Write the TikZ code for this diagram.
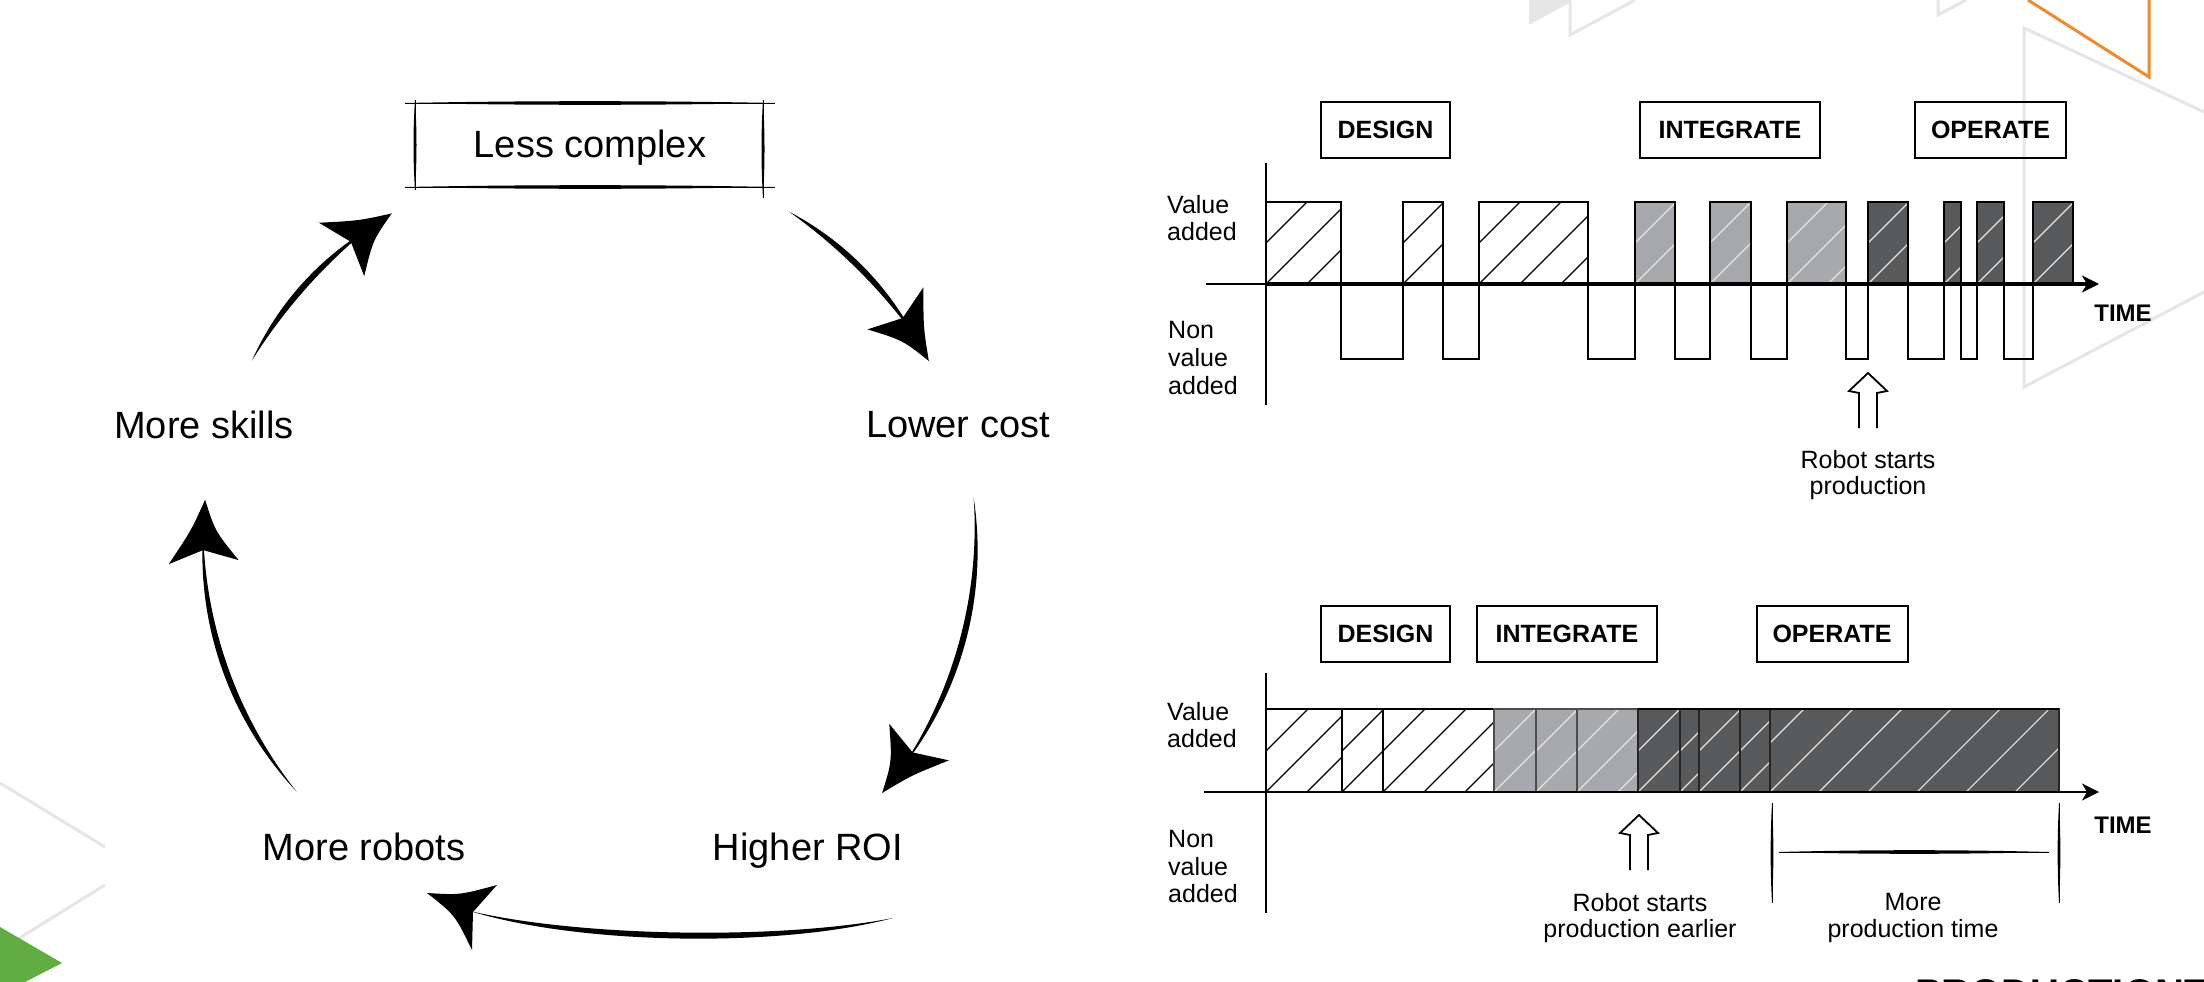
\documentclass[tikz,border=0pt]{standalone}
\usepackage{fontspec}
\setmainfont{Liberation Sans}
\usetikzlibrary{arrows.meta}
\definecolor{lgray}{HTML}{A7A9AC}
\definecolor{dgray}{HTML}{58595B}
\definecolor{bggray}{HTML}{E6E6E6}
\definecolor{orng}{HTML}{EE8B2F}
\definecolor{grn}{HTML}{62AD43}
\definecolor{hatchw}{HTML}{E4E4E4}

\newcommand{\hatchbox}[7]{%
  \fill[#5] (#1,#3) rectangle (#2,#4);
  \begin{scope}
    \clip (#1,#3) rectangle (#2,#4);
    \foreach \k in {-3,...,8}{\draw[#6,line width=1.1pt] ({#1+\k*#7},#4) -- ++(95,-95);}
  \end{scope}}

% horizontal tapered stroke: x1 x2 y half-thickness
\newcommand{\htaper}[4]{%
  \draw[line width=0.9pt] (#1,#3) -- (#2,#3);
  \fill (#1,#3) .. controls ({#1+(#2-#1)/3},{#3-#4}) and ({#2-(#2-#1)/3},{#3-#4}) .. (#2,#3)
        .. controls ({#2-(#2-#1)/3},{#3+#4}) and ({#1+(#2-#1)/3},{#3+#4}) .. (#1,#3) -- cycle;}
% vertical tapered stroke: y1 y2 x half-thickness
\newcommand{\vtaper}[4]{%
  \draw[line width=0.9pt] (#3,#1) -- (#3,#2);
  \fill (#3,#1) .. controls ({#3-#4},{#1+(#2-#1)/3}) and ({#3-#4},{#2-(#2-#1)/3}) .. (#3,#2)
        .. controls ({#3+#4},{#2-(#2-#1)/3}) and ({#3+#4},{#1+(#2-#1)/3}) .. (#3,#1) -- cycle;}

\newcommand{\upsk}[2]{%
  \draw[line width=1.8pt,line join=miter] ({#1-9},{#2+55}) -- ({#1-9},{#2+20}) -- ({#1-19},{#2+18}) -- (#1,#2) -- ({#1+19},{#2+18}) -- ({#1+9},{#2+20}) -- ({#1+9},{#2+55});}

\newcommand{\cycarrow}[3]{%
  \pgfmathsetmacro\cyE{#2+3}
  \pgfmathsetmacro\cyD{\cyE-#1}
  \pgfmathsetmacro\cyP{atan(4/3*tan(\cyD/4))}
  \pgfmathsetmacro\cyRo{(#3+4)/cos(\cyP)}
  \pgfmathsetmacro\cyRi{(#3-4)/cos(\cyP)}
  \pgfmathsetmacro\cyA{#1+\cyP}
  \pgfmathsetmacro\cyB{\cyE-\cyP}
  \pgfmathsetmacro\cyT{#2+7.5}
  \pgfmathsetmacro\cyW{#2-1.8}
  \pgfmathsetmacro\cyM{#2+2.85}
  \pgfmathsetmacro\cyRp{#3+35}
  \pgfmathsetmacro\cyRm{#3-35}
  \pgfmathsetmacro\cyCp{#3+12}
  \pgfmathsetmacro\cyCm{#3-12}
  \fill (#1:#3) .. controls (\cyA:\cyRo) and (\cyB:\cyRo) .. (\cyE:#3) .. controls (\cyB:\cyRi) and (\cyA:\cyRi) .. (#1:#3) -- cycle;
  \fill (\cyT:#3) .. controls (\cyM:\cyCp) .. (\cyW:\cyRp) -- (#2:#3) -- (\cyW:\cyRm) .. controls (\cyM:\cyCm) .. (\cyT:#3) -- cycle;}

\tikzset{
  big/.style={font=\fontsize{38}{44}\selectfont, inner sep=0pt, anchor=base},
  small/.style={font=\fontsize{25}{28}\selectfont, inner sep=0pt},
  phase/.style={font=\bfseries\fontsize{25}{28}\selectfont, draw, line width=2pt, minimum height=56pt, inner sep=0pt},
  timel/.style={font=\bfseries\fontsize{24}{28}\selectfont, inner sep=0pt},
  wave/.style={line width=2.4pt, line join=miter},
  tip/.style={-{Stealth[length=17pt,width=17pt,inset=5pt]}}
}

\begin{document}
\begin{tikzpicture}[x=1pt,y=-1pt]
\useasboundingbox (0,0) rectangle (2204,982);
\fill[white] (0,0) rectangle (2204,982);

% background decoration
\draw[bggray, line width=3pt] (2204,112) -- (2024,28) -- (2024,387) -- (2204,292);
\fill[bggray] (1529,0) -- (1529,25) -- (1569,3) -- (1569,0) -- cycle;
\draw[bggray, line width=3pt] (1570,0) -- (1570,35) -- (1635,0);
\draw[bggray, line width=3pt] (1938,0) -- (1938,15) -- (1966,0);
\draw[orng, line width=3pt] (2028,0) -- (2149,77) -- (2149,0);
\draw[bggray, line width=3pt] (0,783) -- (105,847);
\draw[bggray, line width=3pt] (105,885) -- (0,950);
\fill[grn] (0,927) -- (62,963) -- (25,982) -- (0,982) -- cycle;
\node[font=\bfseries\fontsize{40}{40}\selectfont, inner sep=0pt, anchor=base west] (prodtxt) at (1915,1007) {PRODUCTIONT};

% ===== cycle =====
\node[big] (lesscomplex) at (590,157) {Less complex};
\node[big] (lowercost) at (958,437) {Lower cost};
\node[big] (moreskills) at (204,438) {More skills};
\node[big] (higherroi) at (808,860) {Higher ROI};
\node[big] (morerobots) at (364,860) {More robots};

\htaper{405}{775}{103}{2.4}
\htaper{405}{775}{187}{2.4}
\vtaper{100}{190}{415}{2}
\vtaper{100}{198}{763}{2}

\begin{scope}[shift={(588,540)}]
  \cycarrow{-58.5}{-35.2}{385}
  \cycarrow{-6.2}{33.2}{388}
  \cycarrow{139.2}{178.5}{385}
  \cycarrow{208.1}{231.5}{381}
\end{scope}
\fill (893,918) .. controls (780,948) and (580,945) .. (470,911) .. controls (580,937) and (780,940) .. (893,918) -- cycle;
\fill (427,893) .. controls (460,895) .. (497,885) -- (473,912) -- (472,950) .. controls (455,915) .. (427,893) -- cycle;

% ===== top chart =====
\node[phase, minimum width=129pt] (design1) at (1385.5,130) {DESIGN};
\node[phase, minimum width=180pt] (integrate1) at (1730,130) {INTEGRATE};
\node[phase, minimum width=151pt] (operate1) at (1990.5,130) {OPERATE};

\node[small, anchor=base west] (tv1) at (1167,213) {Value};
\node[small, anchor=base west] (ta1) at (1167,240) {added};
\node[small, anchor=base west] (tn1) at (1168,338) {Non};
\node[small, anchor=base west] (tn2) at (1168,366) {value};
\node[small, anchor=base west] (tn3) at (1168,394) {added};

\hatchbox{1266}{1341}{202}{284}{white}{black}{41}
\hatchbox{1403}{1443}{202}{284}{white}{black}{41}
\hatchbox{1479}{1588}{202}{284}{white}{black}{41}
\hatchbox{1635}{1675}{202}{284}{lgray}{hatchw}{41}
\hatchbox{1710}{1751}{202}{284}{lgray}{hatchw}{41}
\hatchbox{1787}{1846}{202}{284}{lgray}{hatchw}{41}
\hatchbox{1868}{1908}{202}{284}{dgray}{hatchw}{41}
\hatchbox{1944}{1961}{202}{284}{dgray}{hatchw}{41}
\hatchbox{1977}{2004}{202}{284}{dgray}{hatchw}{41}
\hatchbox{2033}{2073}{202}{284}{dgray}{hatchw}{41}

\draw[wave] (1266,202) -- (1341,202) -- (1341,359) -- (1403,359) -- (1403,202) -- (1443,202) -- (1443,359) -- (1479,359) -- (1479,202) -- (1588,202) -- (1588,359) -- (1635,359) -- (1635,202) -- (1675,202) -- (1675,359) -- (1710,359) -- (1710,202) -- (1751,202) -- (1751,359) -- (1787,359) -- (1787,202) -- (1846,202) -- (1846,359) -- (1868,359) -- (1868,202) -- (1908,202) -- (1908,359) -- (1944,359) -- (1944,202) -- (1961,202) -- (1961,359) -- (1977,359) -- (1977,202) -- (2004,202) -- (2004,359) -- (2033,359) -- (2033,202) -- (2073,202) -- (2073,284);

\draw[line width=2pt] (1206,284) -- (1266,284);
\draw[line width=3.2pt, tip] (1266,284) -- (2099,284);
\draw[line width=1.8pt] (1266,163) -- (1266,405);
\node[timel] (time1) at (2123,313) {TIME};

\upsk{1868}{373}
\node[small, anchor=base] (rs1) at (1868,468) {Robot starts};
\node[small, anchor=base] (rs2) at (1868,494) {production};

% ===== bottom chart =====
\node[phase, minimum width=129pt] (design2) at (1385.5,633.5) {DESIGN};
\node[phase, minimum width=180pt] (integrate2) at (1567,633.5) {INTEGRATE};
\node[phase, minimum width=151pt] (operate2) at (1832,633.5) {OPERATE};

\node[small, anchor=base west] (bv1) at (1167,720) {Value};
\node[small, anchor=base west] (ba1) at (1167,747) {added};
\node[small, anchor=base west] (bn1) at (1168,847) {Non};
\node[small, anchor=base west] (bn2) at (1168,875) {value};
\node[small, anchor=base west] (bn3) at (1168,902) {added};

\hatchbox{1266}{1342}{709}{792}{white}{black}{41}
\hatchbox{1342}{1383}{709}{792}{white}{black}{41}
\hatchbox{1383}{1494}{709}{792}{white}{black}{41}
\hatchbox{1494}{1536}{709}{792}{lgray}{hatchw}{41}
\hatchbox{1536}{1577}{709}{792}{lgray}{hatchw}{41}
\hatchbox{1577}{1638}{709}{792}{lgray}{hatchw}{41}
\hatchbox{1638}{1680}{709}{792}{dgray}{hatchw}{41}
\hatchbox{1680}{1699}{709}{792}{dgray}{hatchw}{41}
\hatchbox{1699}{1740}{709}{792}{dgray}{hatchw}{41}
\hatchbox{1740}{1770}{709}{792}{dgray}{hatchw}{41}
\hatchbox{1770}{2059}{709}{792}{dgray}{hatchw}{49}
\draw[line width=1.3pt] (1266,709) rectangle (1342,792);
\draw[line width=1.3pt] (1342,709) rectangle (1383,792);
\draw[line width=1.3pt] (1383,709) rectangle (1494,792);
\draw[line width=1.3pt, black!70] (1494,709) rectangle (1536,792);
\draw[line width=1.3pt, black!70] (1536,709) rectangle (1577,792);
\draw[line width=1.3pt, black!70] (1577,709) rectangle (1638,792);
\draw[line width=1.3pt, black!85] (1638,709) rectangle (1680,792);
\draw[line width=1.3pt, black!85] (1680,709) rectangle (1699,792);
\draw[line width=1.3pt, black!85] (1699,709) rectangle (1740,792);
\draw[line width=1.3pt, black!85] (1740,709) rectangle (1770,792);
\draw[line width=1.3pt, black!85] (1770,709) rectangle (2059,792);
\draw[line width=2pt] (1638,709) -- (2059,709);

\draw[line width=1.6pt] (1204,792) -- (1266,792);
\draw[line width=2.2pt, tip] (1266,792) -- (2099,792);
\draw[line width=1.8pt] (1266,673) -- (1266,913);
\node[timel] (time2) at (2123,825) {TIME};

\upsk{1639}{815}
\node[small, anchor=base] (rse1) at (1640,911) {Robot starts};
\node[small, anchor=base] (rse2) at (1640,937) {production earlier};

\vtaper{803}{903}{1772}{1.8}
\vtaper{803}{903}{2059}{1.8}
\htaper{1779}{2049}{852}{2.4}
\node[small, anchor=base] (mpt1) at (1913,910) {More};
\node[small, anchor=base] (mpt2) at (1913,937) {production time};
\end{tikzpicture}
\end{document}
